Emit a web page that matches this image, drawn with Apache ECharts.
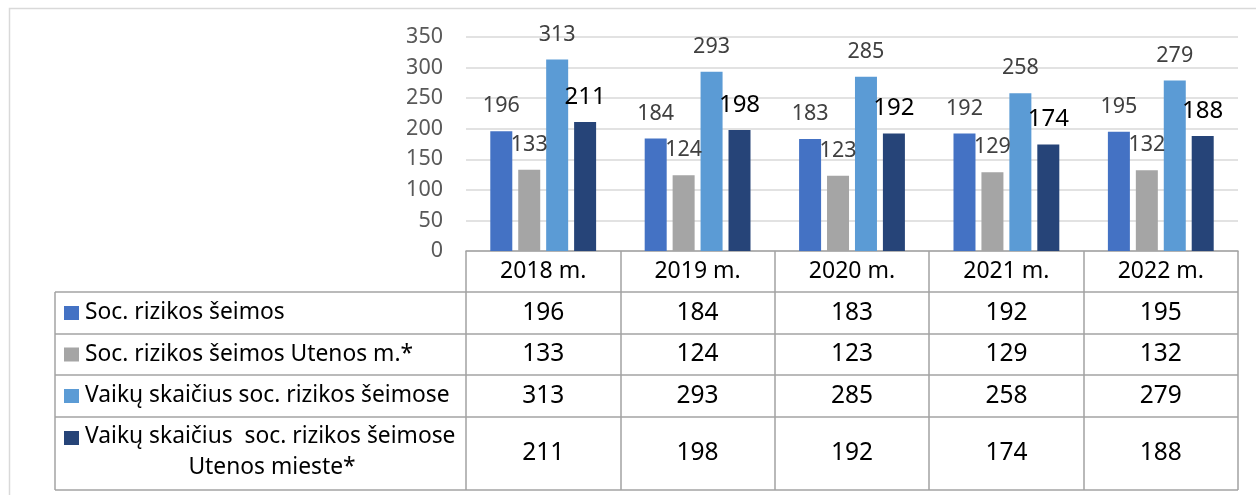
<!DOCTYPE html>
<html>

<head>
    <meta charset="utf-8">
    <script src="https://cdn.jsdelivr.net/npm/echarts@6/dist/echarts.min.js"></script>
    <style>
        body { margin: 0; background: #fff; }
        #main { width: 1256px; height: 495px; }
    </style>
</head>

<body>
    <div id="main"></div>

    <script>
        // data
        var categories = ['2018 m.', '2019 m.', '2020 m.', '2021 m.', '2022 m.'];
        var socRizikosSeimos = [196, 184, 183, 192, 195];
        var socRizikosSeimosUtenos = [133, 124, 123, 129, 132];
        var vaikuSkaicius = [313, 293, 285, 258, 279];
        var vaikuSkaiciusUtenos = [211, 198, 192, 174, 188];
        var seriesNames = [
            'Soc. rizikos šeimos',
            'Soc. rizikos šeimos Utenos m.*',
            'Vaikų skaičius soc. rizikos šeimose',
            'Vaikų skaičius  soc. rizikos šeimose Utenos mieste*'
        ];
        var yMin = 0, yMax = 350, yStep = 50;

        var colors = ['#4472C4', '#A5A5A5', '#5B9BD5', '#264478'];
        var font = '"Noto Sans", sans-serif';
        var lineColor = '#a3a3a3';

        // layout of the data table under the plot
        var gridLeft = 466, gridRight = 1238, axisY = 251;
        var tableLeft = 55;
        var rowLines = [292, 334, 375, 417, 490];

        var myChart = echarts.init(document.getElementById('main'));

        function barSeries(i, values, big) {
            return {
                name: seriesNames[i],
                type: 'bar',
                barWidth: 22,
                barGap: '27%',
                itemStyle: { color: colors[i] },
                label: {
                    show: true,
                    position: 'top',
                    distance: big ? 13 : 14,
                    fontFamily: font,
                    fontSize: big ? 24 : 21.5,
                    color: big ? '#000000' : '#404040'
                },
                data: values
            };
        }

        var option = {
            animation: false,
            textStyle: { fontFamily: font },
            grid: {
                left: gridLeft,
                right: 1256 - gridRight,
                top: 37,
                bottom: 495 - axisY
            },
            xAxis: {
                type: 'category',
                data: categories,
                axisLine: { lineStyle: { color: lineColor, width: 1.5 } },
                axisTick: {
                    show: true,
                    interval: 0,
                    length: rowLines[rowLines.length - 1] - axisY,
                    lineStyle: { color: lineColor, width: 1.5 }
                },
                axisLabel: {
                    margin: 9,
                    fontFamily: font,
                    fontSize: 23,
                    color: '#000000'
                }
            },
            yAxis: {
                type: 'value',
                min: yMin,
                max: yMax,
                interval: yStep,
                axisLine: { show: false },
                axisTick: { show: false },
                axisLabel: {
                    margin: 23,
                    fontFamily: font,
                    fontSize: 21.5,
                    color: '#595959'
                },
                splitLine: { lineStyle: { color: '#d9d9d9', width: 1.5 } }
            },
            series: [
                barSeries(0, socRizikosSeimos, false),
                barSeries(1, socRizikosSeimosUtenos, false),
                barSeries(2, vaikuSkaicius, false),
                barSeries(3, vaikuSkaiciusUtenos, true)
            ]
        };

        myChart.setOption(option);

        // data table: lines, legend keys, row labels, values
        var allValues = [socRizikosSeimos, socRizikosSeimosUtenos, vaikuSkaicius, vaikuSkaiciusUtenos];
        var elements = [];

        elements.push({
            type: 'rect',
            shape: { x: 9.5, y: 8.5, width: 1400, height: 700 },
            style: { fill: 'none', stroke: '#d9d9d9', lineWidth: 1.5 },
            silent: true
        });

        rowLines.forEach(function (y) {
            elements.push({
                type: 'line',
                shape: { x1: tableLeft, y1: y, x2: gridRight, y2: y },
                style: { stroke: lineColor, lineWidth: 1.5 }
            });
        });
        elements.push({
            type: 'line',
            shape: { x1: tableLeft, y1: rowLines[0], x2: tableLeft, y2: rowLines[rowLines.length - 1] },
            style: { stroke: lineColor, lineWidth: 1.5 }
        });

        var labelSize = 22.8;
        for (var r = 0; r < 4; r++) {
            var rowTop = rowLines[r], rowBottom = rowLines[r + 1];
            var mid = (rowTop + rowBottom) / 2;
            var keyY = r === 3 ? 438 : mid;
            elements.push({
                type: 'rect',
                shape: { x: 64, y: keyY - 7, width: 15, height: 14 },
                style: { fill: colors[r] }
            });
            if (r === 3) {
                elements.push({
                    type: 'text', x: 85, y: 437,
                    style: { text: 'Vaikų skaičius  soc. rizikos šeimose', fill: '#000', fontFamily: font, fontSize: labelSize, align: 'left', verticalAlign: 'middle' }
                });
                elements.push({
                    type: 'text', x: 272, y: 468,
                    style: { text: 'Utenos mieste*', fill: '#000', fontFamily: font, fontSize: labelSize, align: 'center', verticalAlign: 'middle' }
                });
            } else {
                elements.push({
                    type: 'text', x: 85, y: mid,
                    style: { text: seriesNames[r], fill: '#000', fontFamily: font, fontSize: labelSize, align: 'left', verticalAlign: 'middle' }
                });
            }
            for (var c = 0; c < categories.length; c++) {
                var cx = myChart.convertToPixel({ xAxisIndex: 0 }, c);
                elements.push({
                    type: 'text', x: cx, y: mid,
                    style: { text: String(allValues[r][c]), fill: '#000', fontFamily: font, fontSize: 24.5, align: 'center', verticalAlign: 'middle' }
                });
            }
        }

        myChart.setOption({ graphic: { elements: elements } });
    </script>
</body>

</html>
